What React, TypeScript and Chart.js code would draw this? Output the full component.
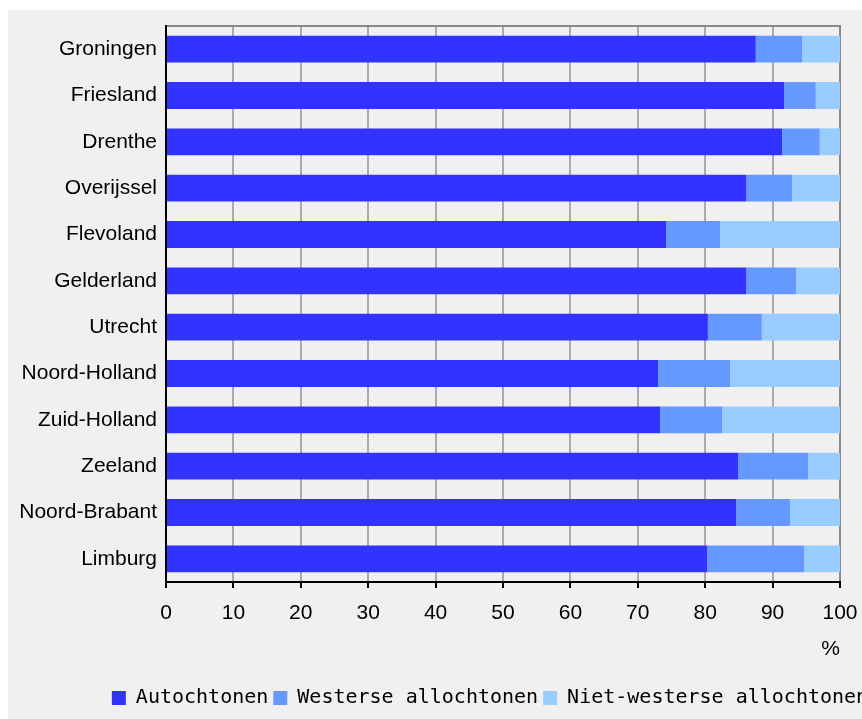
import React, { useEffect, useRef } from "react";
import { Chart, registerables } from "chart.js";

Chart.register(...registerables);

const provinces = [
  "Groningen",
  "Friesland",
  "Drenthe",
  "Overijssel",
  "Flevoland",
  "Gelderland",
  "Utrecht",
  "Noord-Holland",
  "Zuid-Holland",
  "Zeeland",
  "Noord-Brabant",
  "Limburg",
];

const autochtonen = [87.5, 91.7, 91.4, 86.1, 74.2, 86.1, 80.4, 73.0, 73.3, 84.9, 84.6, 80.3];
const westerse = [6.9, 4.7, 5.6, 6.8, 8.0, 7.4, 8.0, 10.7, 9.2, 10.4, 8.0, 14.4];
const nietWesterse = [5.6, 3.6, 3.0, 7.1, 17.8, 6.5, 11.6, 16.3, 17.5, 4.7, 7.4, 5.3];

const seriesNames = ["Autochtonen", "Westerse allochtonen", "Niet-westerse allochtonen"];
const xTickStep = 10;
const xAxisTitle = "%";

const LABEL_FONT = "'Liberation Sans', Arial, sans-serif";
const LEGEND_FONT = "'DejaVu Sans Mono', monospace";

export default function App() {
  const canvasRef = useRef<HTMLCanvasElement | null>(null);

  useEffect(() => {
    const canvas = canvasRef.current;
    if (!canvas) return;
    const chart = new Chart(canvas, {
      type: "bar",
      data: {
        labels: provinces,
        datasets: [
          { label: seriesNames[0], data: autochtonen, backgroundColor: "#3333ff", borderWidth: 0 },
          { label: seriesNames[1], data: westerse, backgroundColor: "#6699ff", borderWidth: 0 },
          { label: seriesNames[2], data: nietWesterse, backgroundColor: "#99ccff", borderWidth: 0 },
        ],
      },
      options: {
        indexAxis: "y",
        responsive: false,
        animation: false,
        maintainAspectRatio: false,
        datasets: {
          bar: { barPercentage: 0.58, categoryPercentage: 1 },
        },
        layout: { padding: { left: 8, right: 4, top: 16, bottom: 1 } },
        scales: {
          x: {
            type: "linear",
            position: "bottom",
            stacked: true,
            min: 0,
            max: 100,
            ticks: {
              stepSize: xTickStep,
              color: "#000",
              padding: 13,
              font: { family: LABEL_FONT, size: 21 },
            },
            grid: {
              color: (ctx: any) =>
                ctx.tick && ctx.tick.value === 100
                  ? "#888888"
                  : ctx.tick && ctx.tick.value === 0
                  ? "rgba(0,0,0,0)"
                  : "#ababab",
              lineWidth: 2,
              tickColor: "#000",
              tickLength: 6,
              tickWidth: 2,
            },
            border: { display: true, color: "#000", width: 2 },
            title: {
              display: true,
              text: xAxisTitle,
              align: "end",
              color: "#000",
              font: { family: LABEL_FONT, size: 21 },
              padding: { top: -2.4, bottom: 21 },
            },
          },
          x2: {
            type: "linear",
            axis: "x",
            position: "top",
            display: true,
            min: 0,
            max: 100,
            ticks: { display: false },
            grid: { display: true, drawOnChartArea: false, drawTicks: false, color: "#888888", lineWidth: 2 },
            border: { display: true, color: "#888888", width: 2 },
          },
          y: {
            type: "category",
            stacked: true,
            ticks: {
              color: "#000",
              padding: 9,
              font: { family: LABEL_FONT, size: 21, lineHeight: 0.6 },
            },
            grid: { display: false, drawTicks: false },
            border: { display: true, color: "#000", width: 2 },
            afterFit: (scale: any) => {
              scale.width = 150;
            },
          },
          yR: {
            type: "category",
            axis: "y",
            position: "right",
            ticks: { display: false },
            grid: { display: false, drawTicks: false },
            border: { display: false },
            afterFit: (scale: any) => {
              scale.width = 124;
            },
          },
        },
        plugins: {
          legend: {
            display: true,
            position: "bottom",
            align: "center",
            labels: {
              boxWidth: 14,
              boxHeight: 14,
              padding: 5,
              color: "#000",
              font: { family: LEGEND_FONT, size: 20 },
            },
          },
          tooltip: { enabled: false },
          title: { display: false },
        },
      },
    });
    return () => chart.destroy();
  }, []);

  return (
    <div
      style={{
        position: "fixed",
        left: 8,
        top: 10,
        width: 854,
        height: 709,
        overflow: "hidden",
        background: "#f0f0f0",
      }}
    >
      <canvas ref={canvasRef} width={960} height={709} style={{ display: "block" }} />
    </div>
  );
}
